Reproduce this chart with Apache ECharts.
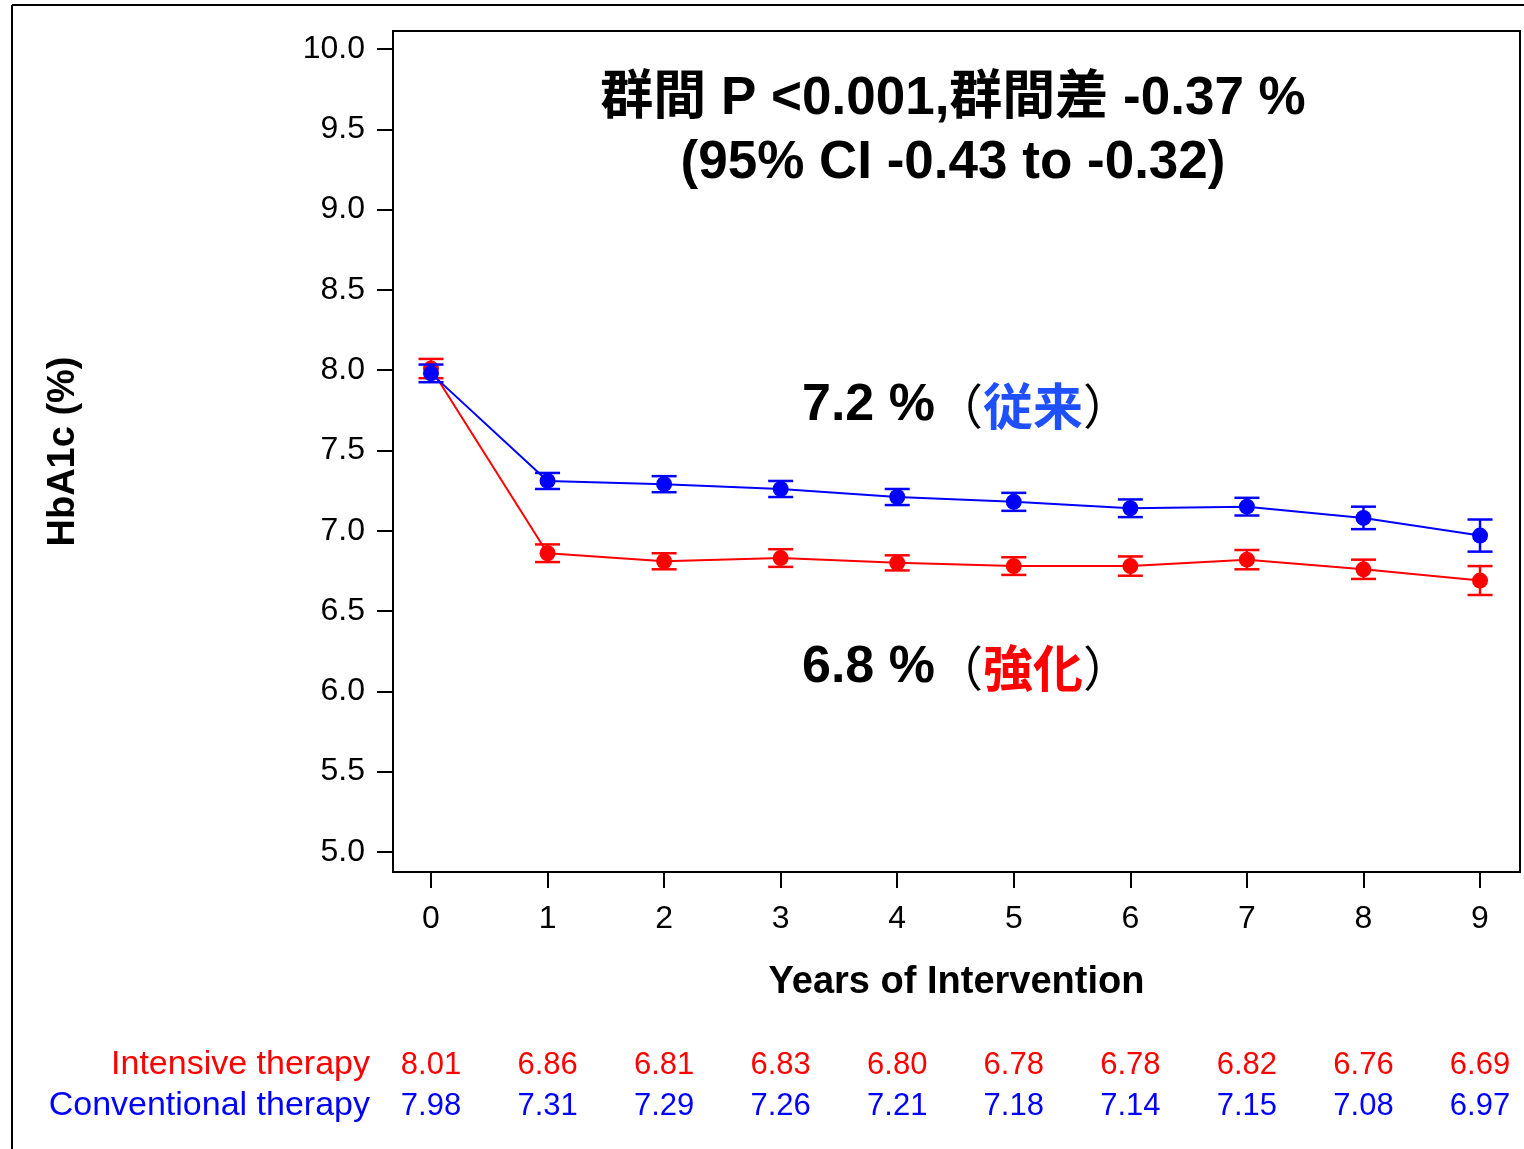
<!DOCTYPE html>
<html>
<head>
<meta charset="utf-8">
<script src="https://cdn.jsdelivr.net/npm/echarts@6/dist/echarts.min.js"></script>
<style>
html,body{margin:0;padding:0;background:#fff;}
#chart{width:1524px;height:1149px;}
</style>
</head>
<body>
<div id="chart"></div>
<script>
// ---- data ----
const years = [0, 1, 2, 3, 4, 5, 6, 7, 8, 9];
const yTicks = [5.0, 5.5, 6.0, 6.5, 7.0, 7.5, 8.0, 8.5, 9.0, 9.5, 10.0];
const intensiveMean = [8.01, 6.86, 6.81, 6.83, 6.80, 6.78, 6.78, 6.82, 6.76, 6.69];
const conventionalMean = [7.98, 7.31, 7.29, 7.26, 7.21, 7.18, 7.14, 7.15, 7.08, 6.97];
// half-width of error bars
const intensiveErr = [0.06, 0.055, 0.05, 0.055, 0.047, 0.055, 0.06, 0.06, 0.06, 0.09];
const conventionalErr = [0.055, 0.05, 0.05, 0.05, 0.05, 0.056, 0.055, 0.055, 0.07, 0.10];
const seriesNames = ['Intensive therapy', 'Conventional therapy'];
const titleLine1 = '群間 P <0.001,群間差 -0.37 %';
const titleLine2 = '(95% CI -0.43 to -0.32)';

const RED = '#ff0000', BLUE = '#0000ff';
const LATIN = '"Liberation Sans", Arial, Helvetica, "Noto Sans CJK JP", sans-serif';
const CJK = '"Noto Sans CJK JP", sans-serif';

function errData(mean, err) {
  return years.map((x, i) => [x, mean[i] - err[i], mean[i] + err[i]]);
}
function lineData(mean) {
  return years.map((x, i) => [x, mean[i]]);
}
function errRender(color) {
  return function (params, api) {
    const x = api.value(0), lo = api.value(1), hi = api.value(2);
    const p1 = api.coord([x, hi]), p2 = api.coord([x, lo]);
    const hw = 12.5;
    const st = { stroke: color, lineWidth: 2.5 };
    return {
      type: 'group',
      children: [
        { type: 'line', shape: { x1: p1[0], y1: p1[1], x2: p2[0], y2: p2[1] }, style: st },
        { type: 'line', shape: { x1: p1[0] - hw, y1: p1[1], x2: p1[0] + hw, y2: p1[1] }, style: st },
        { type: 'line', shape: { x1: p2[0] - hw, y1: p2[1], x2: p2[0] + hw, y2: p2[1] }, style: st }
      ]
    };
  };
}
function tableRender(color, yPix) {
  return function (params, api) {
    const x = api.value(0), v = api.value(1);
    const p = api.coord([x, 7]);
    return {
      type: 'text',
      x: p[0], y: yPix,
      style: {
        text: v.toFixed(2), fill: color, font: '31px ' + LATIN,
        align: 'center', verticalAlign: 'middle'
      }
    };
  };
}

const chart = echarts.init(document.getElementById('chart'), null, { renderer: 'canvas' });
const option = {
  animation: false,
  backgroundColor: '#fff',
  grid: {
    left: 393, right: 4, top: 31, bottom: 277,
    show: true, borderColor: '#000', borderWidth: 2,
    containLabel: false, outerBoundsMode: 'none'
  },
  xAxis: {
    type: 'value',
    min: -0.326, max: 9.343,
    name: 'Years of Intervention',
    nameLocation: 'middle', nameGap: 92,
    nameTextStyle: { fontFamily: LATIN, fontSize: 38, fontWeight: 'bold', color: '#000' },
    axisLine: { show: true, onZero: false, lineStyle: { color: '#000', width: 2 } },
    axisTick: { show: true, length: 16, lineStyle: { color: '#000', width: 2 }, customValues: years },
    axisLabel: { customValues: years, margin: 31, fontFamily: LATIN, fontSize: 32, color: '#000' },
    splitLine: { show: false }
  },
  yAxis: {
    type: 'value',
    min: 4.875, max: 10.112,
    name: 'HbA1c (%)',
    nameLocation: 'middle', nameGap: 310, nameRotate: 90,
    nameTextStyle: { fontFamily: LATIN, fontSize: 38, fontWeight: 'bold', color: '#000' },
    axisLine: { show: true, onZero: false, lineStyle: { color: '#000', width: 2 } },
    axisTick: { show: true, length: 16, lineStyle: { color: '#000', width: 2 }, customValues: yTicks },
    axisLabel: { customValues: yTicks, margin: 28, fontFamily: LATIN, fontSize: 32, color: '#000',
      formatter: v => Number(v).toFixed(1) },
    splitLine: { show: false }
  },
  series: [
    { name: seriesNames[0] + ' SE', type: 'custom', renderItem: errRender(RED), data: errData(intensiveMean, intensiveErr), z: 2, silent: true },
    { name: seriesNames[0], type: 'line', data: lineData(intensiveMean), z: 3, symbol: 'circle', symbolSize: 16,
      itemStyle: { color: RED }, lineStyle: { color: RED, width: 2 } },
    { name: seriesNames[1] + ' SE', type: 'custom', renderItem: errRender(BLUE), data: errData(conventionalMean, conventionalErr), z: 4, silent: true },
    { name: seriesNames[1], type: 'line', data: lineData(conventionalMean), z: 5, symbol: 'circle', symbolSize: 16,
      itemStyle: { color: BLUE }, lineStyle: { color: BLUE, width: 2 } },
    { name: seriesNames[0] + ' table', type: 'custom', renderItem: tableRender(RED, 1065), data: lineData(intensiveMean), clip: false, silent: true },
    { name: seriesNames[1] + ' table', type: 'custom', renderItem: tableRender(BLUE, 1106), data: lineData(conventionalMean), clip: false, silent: true }
  ],
  graphic: [
    { type: 'line', shape: { x1: 12, y1: 5, x2: 1524, y2: 5 }, style: { stroke: '#000', lineWidth: 2 } },
    { type: 'line', shape: { x1: 12, y1: 5, x2: 12, y2: 1149 }, style: { stroke: '#000', lineWidth: 2 } },
    { type: 'text', x: 953, y: 99, style: { text: titleLine1, font: 'bold 53px ' + LATIN, fill: '#000', align: 'center', verticalAlign: 'middle' } },
    { type: 'text', x: 953, y: 163, style: { text: titleLine2, font: 'bold 53px ' + LATIN, fill: '#000', align: 'center', verticalAlign: 'middle' } },
    { type: 'text', x: 802, y: 406, style: {
        text: '7.2 %{c|（}{b|従来}{c|）}', font: 'bold 52px ' + LATIN, fill: '#000', align: 'left', verticalAlign: 'middle',
        rich: { b: { fill: '#1e50ff', font: 'bold 50px ' + CJK }, c: { fill: '#000', font: '48px ' + CJK } } } },
    { type: 'text', x: 802, y: 668, style: {
        text: '6.8 %{c|（}{r|強化}{c|）}', font: 'bold 52px ' + LATIN, fill: '#000', align: 'left', verticalAlign: 'middle',
        rich: { r: { fill: '#ff0000', font: 'bold 50px ' + CJK }, c: { fill: '#000', font: '48px ' + CJK } } } },
    { type: 'text', x: 370, y: 1065, style: { text: seriesNames[0], font: '34px ' + LATIN, fill: RED, align: 'right', verticalAlign: 'middle' } },
    { type: 'text', x: 370, y: 1106, style: { text: seriesNames[1], font: '34px ' + LATIN, fill: BLUE, align: 'right', verticalAlign: 'middle' } }
  ]
};
chart.setOption(option);
</script>
</body>
</html>
